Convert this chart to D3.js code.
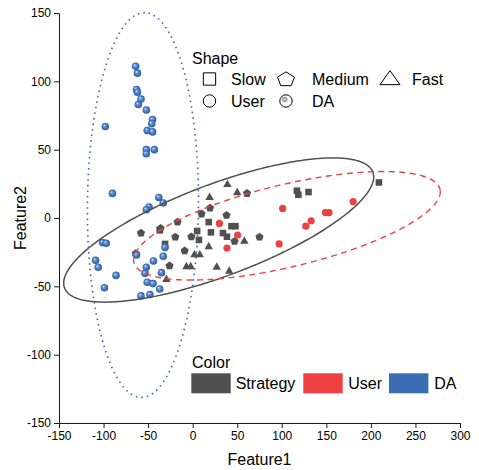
<!DOCTYPE html>
<html>
<head>
<meta charset="utf-8">
<script src="https://cdn.jsdelivr.net/npm/d3@7"></script>
<style>
  body { margin: 0; background: #fff; }
  text { font-family: "Liberation Sans", Arial, sans-serif; fill: #000; }
</style>
</head>
<body>
<svg id="chart" width="479" height="470"></svg>
<script>
// ---- data ----------------------------------------------------------------
const xTicks = [-150, -100, -50, 0, 50, 100, 150, 200, 250, 300];
const yTicks = [-150, -100, -50, 0, 50, 100, 150];

// Strategy points, split by speed (Feature1, Feature2)
const strategySlow = [
  [18, -3], [43.5, -6], [48, -6], [20.5, -10.5], [34, -11], [38.5, -13.7],
  [5, -9.5], [7, -16], [-31, -19], [-37, -9], [117, 20], [118.6, 17],
  [130, 19], [209, 26]
];
const strategyMedium = [
  [61, 18], [19.5, 7.3], [10, 3], [38, 2], [-17, -3], [-36, -7.6], [-58, -11],
  [-19.5, -14], [-1.5, -13.7], [47, -17], [75, -14], [-9, -24], [-26, -35],
  [-64, -26]
];
const strategyFast = [
  [39, 24.4], [19, 15], [50, 18.5], [18, -21], [58, -17], [2, -27], [8, -27],
  [-7, -35.7], [-2.2, -35.7], [27, -36], [41, -39], [-29.5, -45]
];

// User points
const userPoints = [
  [30, -4], [50.5, -12.5], [38.5, -22], [101, 7], [97, -19], [127, -6],
  [133, -2], [149, 4], [153, 4], [180, 12]
];

// DA points
const daPoints = [
  [-64, 111], [-62, 106], [-63, 94], [-62, 92], [-58, 87], [-61, 83], [-52, 79],
  [-45, 72], [-46, 69], [-51, 64], [-45, 63], [-98, 67], [-52, 50], [-52, 47],
  [-43, 50], [-90, 18], [-38, 15], [-33, 11], [-49, 8], [-52, 6],
  [-101, -18], [-97, -18.5], [-109, -31], [-106, -36], [-86, -42], [-99, -51],
  [-31, -21.5], [-33, -28], [-44, -31.5], [-52, -36], [-53.5, -40.5], [-35, -40],
  [-51, -47], [-44.5, -48], [-37, -52], [-58, -57], [-48, -56], [-63, -27]
];

// Confidence ellipses per group: centre, semi-axes and rotation (degrees), in data units
const ellipseGroups = ["Strategy", "User", "DA"];
const ellipseCenters = [[29.2, -8.8], [105.8, -5.7], [-55.8, 9.5]];
const ellipseRadii = [[178.4, 34.8], [173.9, 30.6], [140.8, 62.3]];
const ellipseAngles = [13.1, 8.5, 89.1];

const colorLabels = ["Strategy", "User", "DA"];
const shapeLabels = ["Slow", "Medium", "Fast", "User", "DA"];

// ---- layout ----------------------------------------------------------------
const colors = { Strategy: "#505050", User: "#ee4040", DA: "#3b6db5" };
const svg = d3.select("#chart");
const W = 479, H = 470;
const margin = { top: 13, right: 19, bottom: 47, left: 59 };

const x = d3.scaleLinear().domain([-150, 300]).range([margin.left, W - margin.right]);
const y = d3.scaleLinear().domain([-150, 150]).range([H - margin.bottom, margin.top]);

// sphere-like fill for DA points
const defs = svg.append("defs");
const grad = defs.append("radialGradient").attr("id", "daBall")
  .attr("cx", "50%").attr("cy", "50%").attr("r", "55%")
  .attr("fx", "35%").attr("fy", "32%");
grad.append("stop").attr("offset", "0%").attr("stop-color", "#eef4fc");
grad.append("stop").attr("offset", "28%").attr("stop-color", "#6d98d8");
grad.append("stop").attr("offset", "70%").attr("stop-color", "#3b6db5");
grad.append("stop").attr("offset", "100%").attr("stop-color", "#2d5898");
const gradKey = defs.append("radialGradient").attr("id", "daKey")
  .attr("cx", "50%").attr("cy", "50%").attr("r", "50%");
gradKey.append("stop").attr("offset", "0%").attr("stop-color", "#e0e0e0");
gradKey.append("stop").attr("offset", "60%").attr("stop-color", "#9a9a9a");
gradKey.append("stop").attr("offset", "100%").attr("stop-color", "#bbbbbb");

// ---- axes --------------------------------------------------------------------
const xAxis = svg.append("g")
  .attr("transform", `translate(0,${H - margin.bottom})`)
  .call(d3.axisBottom(x).tickValues(xTicks).tickFormat(d => String(d))
    .tickSize(5).tickSizeOuter(0).tickPadding(3));
const yAxis = svg.append("g")
  .attr("transform", `translate(${margin.left},0)`)
  .call(d3.axisLeft(y).tickValues(yTicks).tickFormat(d => String(d))
    .tickSize(5).tickSizeOuter(0).tickPadding(3));
[xAxis, yAxis].forEach(g => {
  g.selectAll("path, line").attr("stroke", "#1a1a1a");
  g.selectAll("text").attr("font-size", 12).attr("fill", "#1a1a1a")
    .attr("font-family", '"Liberation Sans", Arial, sans-serif');
});

svg.append("text").attr("x", (margin.left + W - margin.right) / 2).attr("y", 465)
  .attr("text-anchor", "middle").attr("font-size", 16).text("Feature1");
svg.append("text")
  .attr("transform", `translate(26,${(margin.top + H - margin.bottom) / 2}) rotate(-90)`)
  .attr("text-anchor", "middle").attr("font-size", 16).text("Feature2");

// ---- symbol paths ------------------------------------------------------------
function pentagonPath(rx, ry) {
  const pts = d3.range(5).map(k => {
    const a = (-90 + k * 72) * Math.PI / 180;
    return [rx * Math.cos(a), ry * Math.sin(a)];
  });
  return "M" + pts.map(p => p.join(",")).join("L") + "Z";
}
function trianglePath(w, h) {
  return `M0,${-h * 2 / 3}L${w / 2},${h / 3}L${-w / 2},${h / 3}Z`;
}
function squarePath(s) {
  return `M${-s / 2},${-s / 2}h${s}v${s}h${-s}Z`;
}

// ---- points ------------------------------------------------------------------
const pts = svg.append("g");
pts.selectAll(".slow").data(strategySlow).join("path")
  .attr("transform", d => `translate(${x(d[0])},${y(d[1])})`)
  .attr("d", squarePath(6.6)).attr("fill", colors.Strategy);
pts.selectAll(".med").data(strategyMedium).join("path")
  .attr("transform", d => `translate(${x(d[0])},${y(d[1])})`)
  .attr("d", pentagonPath(4.3, 4.3)).attr("fill", colors.Strategy);
pts.selectAll(".fast").data(strategyFast).join("path")
  .attr("transform", d => `translate(${x(d[0])},${y(d[1])})`)
  .attr("d", trianglePath(8.4, 7.4)).attr("fill", colors.Strategy);
pts.selectAll(".user").data(userPoints).join("circle")
  .attr("cx", d => x(d[0])).attr("cy", d => y(d[1])).attr("r", 3.6)
  .attr("fill", colors.User);
pts.selectAll(".da").data(daPoints).join("circle")
  .attr("cx", d => x(d[0])).attr("cy", d => y(d[1])).attr("r", 3.8)
  .attr("fill", "url(#daBall)");

// ---- ellipses ----------------------------------------------------------------
const ellipseLine = d3.line().curve(d3.curveLinearClosed);
const ellipseStyle = {
  Strategy: { dash: null, width: 1.5 },
  User: { dash: "6,4.5", width: 1.4 },
  DA: { dash: "1.6,4", width: 1.6 }
};
ellipseGroups.forEach((g, i) => {
  const [cx, cy] = ellipseCenters[i];
  const [a, b] = ellipseRadii[i];
  const th = ellipseAngles[i] * Math.PI / 180;
  const ring = d3.range(0, 2 * Math.PI, Math.PI / 180).map(t => {
    const ex = a * Math.cos(t), ey = b * Math.sin(t);
    return [x(cx + ex * Math.cos(th) - ey * Math.sin(th)),
            y(cy + ex * Math.sin(th) + ey * Math.cos(th))];
  });
  svg.append("path").attr("d", ellipseLine(ring))
    .attr("fill", "none").attr("stroke", colors[g])
    .attr("stroke-width", ellipseStyle[g].width)
    .attr("stroke-dasharray", ellipseStyle[g].dash);
});

// ---- shape legend ------------------------------------------------------------
const lg = svg.append("g");
lg.append("text").attr("x", 192).attr("y", 64).attr("font-size", 16).text("Shape");
const keyPos = [[209.5, 79], [286, 79], [390, 79], [209.5, 101], [286, 101]];
const textX = [231, 312, 412, 231, 312];
shapeLabels.forEach((lab, i) => {
  const [kx, ky] = keyPos[i];
  const k = lg.append("g").attr("transform", `translate(${kx},${ky})`);
  if (lab === "Slow") k.append("path").attr("d", squarePath(12.3));
  else if (lab === "Medium") k.append("path").attr("d", pentagonPath(8.9, 7.6)).attr("transform", "translate(0,0.5)");
  else if (lab === "Fast") k.append("path").attr("d", trianglePath(20, 14)).attr("transform", "translate(0,1)");
  else if (lab === "User") k.append("circle").attr("r", 6.2);
  else {
    k.append("circle").attr("r", 6.2);
    k.append("circle").attr("cx", -1.3).attr("cy", -1.5).attr("r", 3)
      .attr("fill", "url(#daKey)").attr("stroke", "none");
  }
  k.selectAll("path, circle").filter(function () { return !d3.select(this).attr("stroke"); })
    .attr("fill", "none").attr("stroke", "#000").attr("stroke-width", 1);
  lg.append("text").attr("x", textX[i]).attr("y", ky + 6).attr("font-size", 16).text(lab);
});

// ---- colour legend -----------------------------------------------------------
lg.append("text").attr("x", 192).attr("y", 368).attr("font-size", 16).text("Color");
const rectX = [191.3, 303.3, 389];
const labelX = [235.7, 348.3, 434.3];
colorLabels.forEach((lab, i) => {
  lg.append("rect").attr("x", rectX[i]).attr("y", 373.3).attr("width", 39.4)
    .attr("height", 20).attr("fill", colors[lab]);
  lg.append("text").attr("x", labelX[i]).attr("y", 389).attr("font-size", 16).text(lab);
});
</script>
</body>
</html>
